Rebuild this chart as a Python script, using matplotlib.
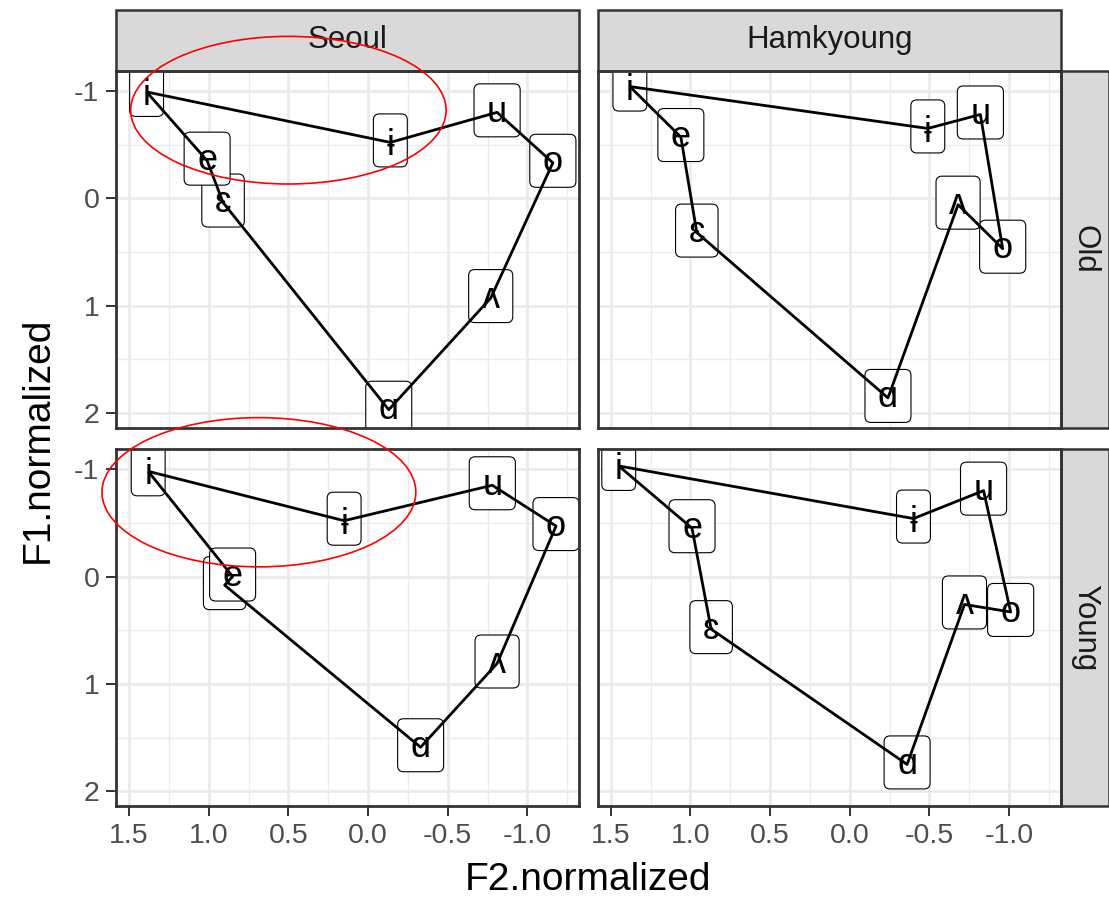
import matplotlib
matplotlib.use('Agg')
import matplotlib.pyplot as plt
from matplotlib.patches import FancyBboxPatch, Rectangle, Ellipse
from matplotlib.transforms import ScaledTranslation
from matplotlib.textpath import TextPath
from matplotlib.font_manager import FontProperties

plt.rcParams['font.family'] = ['Liberation Sans', 'DejaVu Sans']

# vowel order along the path (closed loop)
vowels = ['i', 'e', 'ɛ', 'ɑ', 'ʌ', 'o', 'u', 'ɨ']
# order in which labels get stacked
draw_order = ['i', 'ɨ', 'u', 'ʌ', 'o', 'ɑ', 'ɛ', 'e']

regions = ['Seoul', 'Hamkyoung']
ages = ['Old', 'Young']

seoul_old_f2 = [1.39, 1.01, 0.91, -0.13, -0.77, -1.16, -0.81, -0.14]
seoul_old_f1 = [-0.99, -0.35, 0.04, 1.97, 0.93, -0.33, -0.80, -0.52]
ham_old_f2 = [1.38, 1.06, 0.96, -0.24, -0.68, -0.96, -0.82, -0.49]
ham_old_f1 = [-1.04, -0.57, 0.32, 1.86, 0.06, 0.47, -0.78, -0.65]
seoul_young_f2 = [1.38, 0.85, 0.90, -0.33, -0.81, -1.18, -0.78, 0.15]
seoul_young_f1 = [-0.98, 0.00, 0.08, 1.59, 0.81, -0.47, -0.85, -0.52]
ham_young_f2 = [1.45, 0.99, 0.87, -0.36, -0.72, -1.01, -0.84, -0.40]
ham_young_f1 = [-1.03, -0.45, 0.49, 1.75, 0.26, 0.33, -0.80, -0.54]

panel_data = {
    ('Old', 'Seoul'): (seoul_old_f2, seoul_old_f1),
    ('Old', 'Hamkyoung'): (ham_old_f2, ham_old_f1),
    ('Young', 'Seoul'): (seoul_young_f2, seoul_young_f1),
    ('Young', 'Hamkyoung'): (ham_young_f2, ham_young_f1),
}

# red ellipses highlighting the high vowels in Seoul
ellipse_f2 = [0.50, 0.685]
ellipse_f1 = [-0.82, -0.785]
ellipse_w = [1.98, 1.97]
ellipse_h = [1.375, 1.39]

x_ticks = [1.5, 1.0, 0.5, 0.0, -0.5, -1.0]
x_ticklabels = ['1.5', '1.0', '0.5', '0.0', '-0.5', '-1.0']
y_ticks = [-1, 0, 1, 2]
y_ticklabels = ['-1', '0', '1', '2']

fig = plt.figure(figsize=(11.09, 9), dpi=100)
W, H = 1109, 900
col_x = [116, 597.7]
col_w = 463.3
row_y = [71, 449.3]
row_h = 357

dark = '#333333'
strip_fill = '#D9D9D9'
label_size = 26

renderer = fig.canvas.get_renderer()
label_prop = FontProperties(family=['Liberation Sans', 'DejaVu Sans'], size=label_size)


def ink_middle(s):
    # vertical middle of the glyph ink, in points above the baseline
    ext = TextPath((0, 0), s, size=label_size, prop=label_prop).get_extents()
    return (ext.y0 + ext.y1) / 2


for r, age in enumerate(ages):
    for c, region in enumerate(regions):
        ax = fig.add_axes([col_x[c] / W, 1 - (row_y[r] + row_h) / H, col_w / W, row_h / H])
        f2, f1 = panel_data[(age, region)]

        # path through the vowels, back to i
        px = list(f2) + [f2[0]]
        py = list(f1) + [f1[0]]
        ax.plot(px, py, color='black', lw=2.0, zorder=20, solid_capstyle='butt')

        # labels with rounded boxes
        for k, v in enumerate(draw_order):
            idx = vowels.index(v)
            x, y = f2[idx], f1[idx]
            tr = fig.dpi_scale_trans + ScaledTranslation(x, y, ax.transData)
            t = ax.text(0, -ink_middle(v) / 72, v, fontproperties=label_prop,
                        ha='center', va='baseline', color='black', transform=tr,
                        zorder=10.01 + k * 0.02, clip_on=True)
            w = t.get_window_extent(renderer).width / fig.dpi
            padx, bh = 0.13, 0.53
            box = FancyBboxPatch((-w / 2 - padx, -bh / 2 + 0.02), w + 2 * padx, bh,
                                 boxstyle='round,pad=0,rounding_size=0.06',
                                 transform=tr, fc='white', ec='black', lw=0.8,
                                 zorder=10 + k * 0.02)
            ax.add_patch(box)

        if region == 'Seoul':
            ax.add_patch(Ellipse((ellipse_f2[r], ellipse_f1[r]), ellipse_w[r], ellipse_h[r],
                                 fill=False, ec='red', lw=1.2, zorder=30, clip_on=False))

        ax.set_xlim(1.582, -1.326)
        ax.set_ylim(2.14, -1.185)
        ax.set_xticks(x_ticks)
        ax.set_xticks([1.25, 0.75, 0.25, -0.25, -0.75, -1.25], minor=True)
        ax.set_yticks(y_ticks)
        ax.set_yticks([-0.5, 0.5, 1.5], minor=True)
        ax.grid(which='major', color='#EBEBEB', lw=2.0, zorder=0)
        ax.grid(which='minor', color='#EBEBEB', lw=1.0, zorder=0)
        ax.set_axisbelow(True)
        ax.tick_params(which='minor', length=0)
        ax.tick_params(which='major', length=7, width=1.4, color=dark,
                       labelsize=20.5, labelcolor='#4D4D4D', pad=5)
        for s in ax.spines.values():
            s.set_color(dark)
            s.set_linewidth(2.0)
            s.set_zorder(25)

        if c == 0:
            ax.set_yticklabels(y_ticklabels)
        else:
            ax.tick_params(axis='y', which='major', length=0, labelleft=False)
        if r == 1:
            ax.set_xticklabels(x_ticklabels)
        else:
            ax.tick_params(axis='x', which='major', length=0, labelbottom=False)

        # facet strips
        if r == 0:
            sh = 61 / row_h
            ax.add_patch(Rectangle((0, 1), 1, sh, transform=ax.transAxes, fc=strip_fill,
                                   ec=dark, lw=1.8, clip_on=False, zorder=5))
            ax.text(0.5, 1 + sh / 2, region, transform=ax.transAxes, ha='center',
                    va='center', fontsize=22.5, color='#1A1A1A', zorder=6)
        if c == 1:
            sw = 48 / col_w
            ax.add_patch(Rectangle((1, 0), sw, 1, transform=ax.transAxes, fc=strip_fill,
                                   ec=dark, lw=1.8, clip_on=False, zorder=5))
            ax.text(1 + sw / 2, 0.5, age, transform=ax.transAxes, ha='center',
                    va='center', fontsize=22.5, color='#1A1A1A', rotation=-90, zorder=6)

fig.text(0.530, 0.022, 'F2.normalized', ha='center', va='center', fontsize=28, color='black')
fig.text(0.034, 0.511, 'F1.normalized', ha='center', va='center', fontsize=28,
         color='black', rotation=90)

fig.savefig('out.png', dpi=100)
